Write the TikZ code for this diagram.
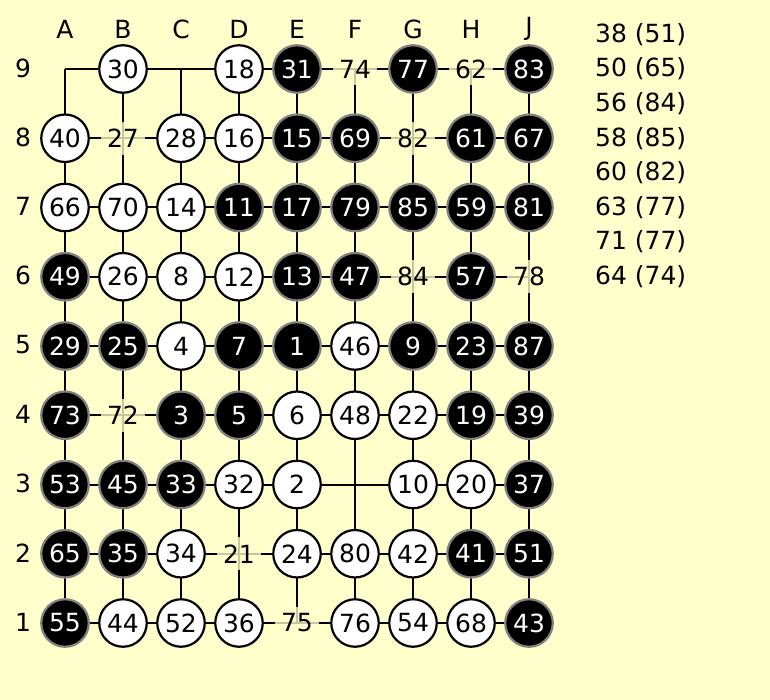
\documentclass[tikz,border=0pt]{standalone}
\usepackage{fontspec}
\setmainfont{DejaVu Sans}
\definecolor{bg}{HTML}{FFFFCC}
\definecolor{rim}{HTML}{808080}
\begin{document}
\begin{tikzpicture}[x=1pt,y=-1pt,
  fs/.style={font=\fontsize{25}{25}\selectfont},
  gridline/.style={line width=2pt,black},
  stonew/.style={circle,draw=black,fill=white,line width=2.2pt,minimum size=47.5pt,inner sep=0pt,fs},
  stoneb/.style={circle,draw=rim,fill=black,text=white,line width=2.2pt,minimum size=47.5pt,inner sep=0pt,fs},
  stonel/.style={rectangle,fill=bg,fill opacity=0.78,text opacity=1,minimum width=44pt,minimum height=33pt,inner sep=0pt,fs},
  coord/.style={fs,inner sep=0pt},
  note/.style={fs,inner sep=0pt,anchor=west}]
\fill[bg] (0,0) rectangle (770,700);
\useasboundingbox (0,0) rectangle (770,700);
% board points
\foreach \c/\i in {A/0,B/1,C/2,D/3,E/4,F/5,G/6,H/7,J/8}{
  \foreach \r in {1,...,9}{
    \coordinate (\c\r) at ({65+58*\i},{69+69.25*(9-\r)});
  }
  \node[coord] (col\c) at ({65+58*\i},29) {\c};
}
\foreach \r in {1,...,9}{
  \node[coord] (row\r) at (23,{68+69.25*(9-\r)}) {\r};
}
% grid
\foreach \r in {1,...,9}{ \draw[gridline] (A\r) -- (J\r); }
\foreach \c in {A,B,C,D,E,F,G,H,J}{ \draw[gridline] (\c9) -- (\c1); }
% stones and labels
\foreach \c/\r/\t/\n in {
  B/9/w/30, D/9/w/18, E/9/b/31, F/9/l/74, G/9/b/77, H/9/l/62, J/9/b/83,
  A/8/w/40, B/8/l/27, C/8/w/28, D/8/w/16, E/8/b/15, F/8/b/69, G/8/l/82, H/8/b/61, J/8/b/67,
  A/7/w/66, B/7/w/70, C/7/w/14, D/7/b/11, E/7/b/17, F/7/b/79, G/7/b/85, H/7/b/59, J/7/b/81,
  A/6/b/49, B/6/w/26, C/6/w/8, D/6/w/12, E/6/b/13, F/6/b/47, G/6/l/84, H/6/b/57, J/6/l/78,
  A/5/b/29, B/5/b/25, C/5/w/4, D/5/b/7, E/5/b/1, F/5/w/46, G/5/b/9, H/5/b/23, J/5/b/87,
  A/4/b/73, B/4/l/72, C/4/b/3, D/4/b/5, E/4/w/6, F/4/w/48, G/4/w/22, H/4/b/19, J/4/b/39,
  A/3/b/53, B/3/b/45, C/3/b/33, D/3/w/32, E/3/w/2, G/3/w/10, H/3/w/20, J/3/b/37,
  A/2/b/65, B/2/b/35, C/2/w/34, D/2/l/21, E/2/w/24, F/2/w/80, G/2/w/42, H/2/b/41, J/2/b/51,
  A/1/b/55, B/1/w/44, C/1/w/52, D/1/w/36, E/1/l/75, F/1/w/76, G/1/w/54, H/1/w/68, J/1/b/43}{
  \node[stone\t] (s\c\r) at (\c\r) {\n};
}
% notes
\foreach \txt [count=\k from 0] in {38 (51),50 (65),56 (84),58 (85),60 (82),63 (77),71 (77),64 (74)}{
  \node[note] (note\k) at (595,{34.4+34.625*\k}) {\txt};
}
\end{tikzpicture}
\end{document}
